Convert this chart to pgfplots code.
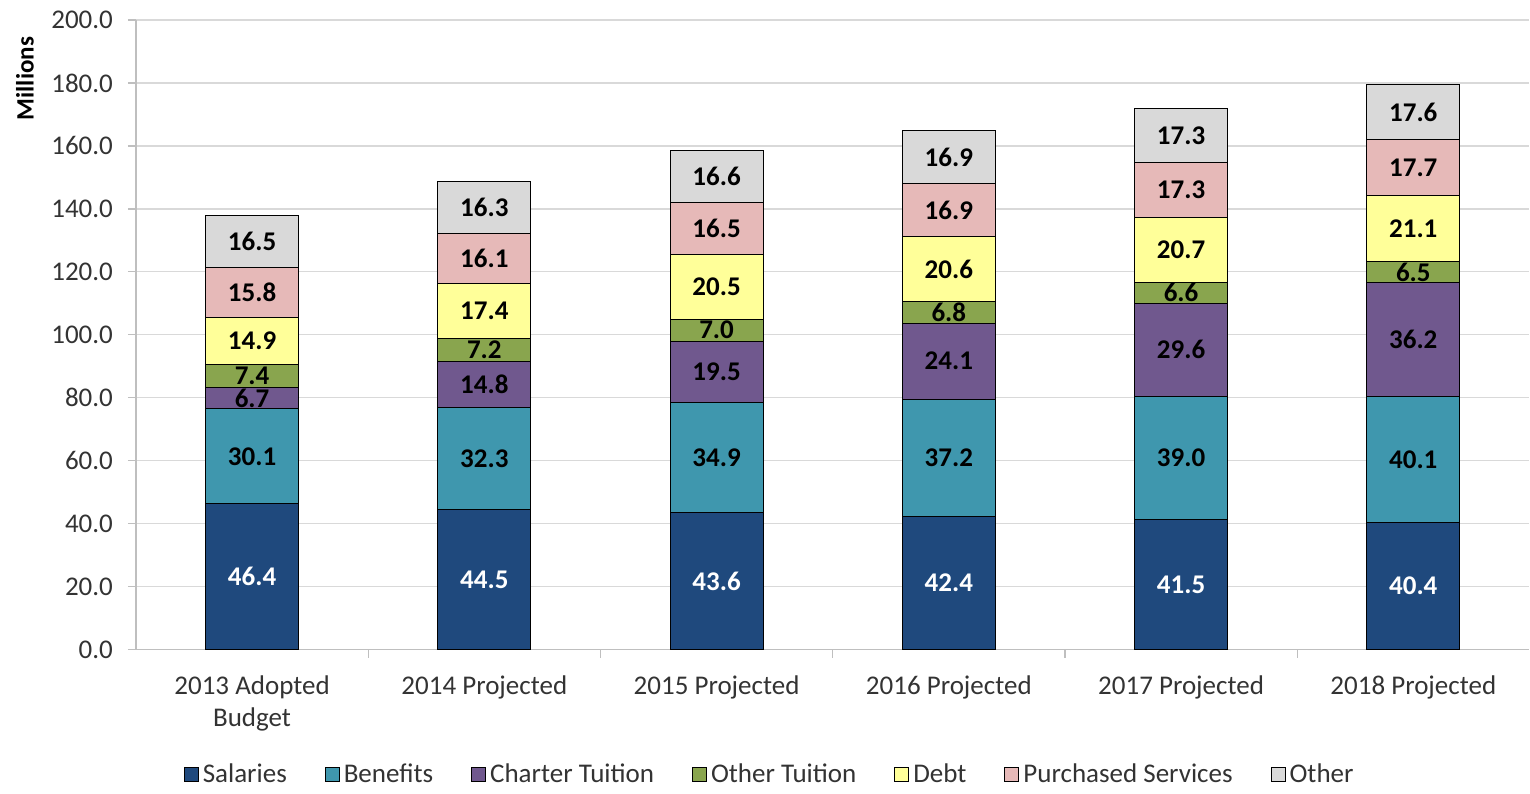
\documentclass[border=0pt]{standalone}
\usepackage{pgfplots}
\pgfplotsset{compat=1.18}
\usepackage{pgfplotstable}
\usepackage{fontspec}
\setmainfont{Carlito}
\definecolor{csal}{HTML}{1F497D}
\definecolor{cben}{HTML}{3F97AE}
\definecolor{ccht}{HTML}{70588E}
\definecolor{coth}{HTML}{89A54E}
\definecolor{cdebt}{HTML}{FFFF99}
\definecolor{cpur}{HTML}{E6B9B8}
\definecolor{cother}{HTML}{D9D9D9}
\definecolor{cgrid}{HTML}{D9D9D9}
\definecolor{caxis}{HTML}{BFBFBF}
\pgfplotstableread{
x sal ben cht oth debt pur other
0 46.4 30.1 6.7 7.4 14.9 15.8 16.5
1 44.5 32.3 14.8 7.2 17.4 16.1 16.3
2 43.6 34.9 19.5 7.0 20.5 16.5 16.6
3 42.4 37.2 24.1 6.8 20.6 16.9 16.9
4 41.5 39.0 29.6 6.6 20.7 17.3 17.3
5 40.4 40.1 36.2 6.5 21.1 17.7 17.6
}\data
\pgfplotsset{
  seg/.style 2 args={fill=#1, draw=black, line width=0.5pt,
    nodes near coords,
    point meta=\thisrow{#2},
    every node near coord/.append style={anchor=center,
      font=\bfseries\fontsize{13.5}{16}\selectfont, inner sep=0pt},
    legend image code/.code={\draw[##1, line width=0.5pt] (0pt,-3.5pt) rectangle (7pt,3.5pt);}},
}
\begin{document}
\begin{tikzpicture}
\begin{axis}[
  scale only axis, width=697pt, height=315pt,
  ybar stacked, bar width=0.4,
  xmin=-0.5, xmax=5.5, ymin=0, ymax=200,
  ytick={0,20,...,200},
  xtick={0,1,2,3,4,5},
  xticklabels={{2013 Adopted\\Budget},{2014 Projected},{2015 Projected},{2016 Projected},{2017 Projected},{2018 Projected}},
  minor xtick={0.5,1.5,2.5,3.5,4.5},
  major x tick style={draw=none},
  axis x line*=bottom, axis y line*=left,
  axis line style={draw=caxis, line width=0.6pt},
  tick style={draw=caxis, line width=0.6pt},
  tick align=outside, major tick length=4pt, minor tick length=4pt,
  ymajorgrids, grid style={draw=cgrid, line width=0.6pt},
  /pgf/number format/assume math mode=true,
  /pgf/number format/fixed, /pgf/number format/zerofill, /pgf/number format/precision=1,
  yticklabel style={font=\fontsize{13.5}{16}\selectfont, text=black!80, xshift=-4pt},
  xticklabel style={font=\fontsize{13.5}{16}\selectfont, text=black!80, align=center, yshift=-5.5pt},
  legend style={draw=none, legend columns=-1, at={(0.4555,0)}, anchor=center, yshift=-62.5pt,
    font=\fontsize{13.5}{16}\selectfont, text=black!80,
    /tikz/every even column/.append style={column sep=17pt},
    /tikz/every odd column/.append style={column sep=0pt},
    legend cell align=left},
  clip=false,
]
\addplot[seg={csal}{sal}, every node near coord/.append style={text=white}] table[x=x,y=sal] {\data};
\addplot[seg={cben}{ben}] table[x=x,y=ben] {\data};
\addplot[seg={ccht}{cht}] table[x=x,y=cht] {\data};
\addplot[seg={coth}{oth}] table[x=x,y=oth] {\data};
\addplot[seg={cdebt}{debt}] table[x=x,y=debt] {\data};
\addplot[seg={cpur}{pur}] table[x=x,y=pur] {\data};
\addplot[seg={cother}{other}] table[x=x,y=other] {\data};
\legend{Salaries,Benefits,Charter Tuition,Other Tuition,Debt,Purchased Services,Other}
\node[rotate=90, anchor=east, font=\bfseries\fontsize{12.5}{15}\selectfont] at ([xshift=-55.5pt,yshift=-5pt]rel axis cs:0,1) {Millions};
\path ([xshift=-68pt,yshift=10pt]rel axis cs:0,1) ([yshift=-68.5pt]rel axis cs:1,0);
\end{axis}
\end{tikzpicture}
\end{document}
